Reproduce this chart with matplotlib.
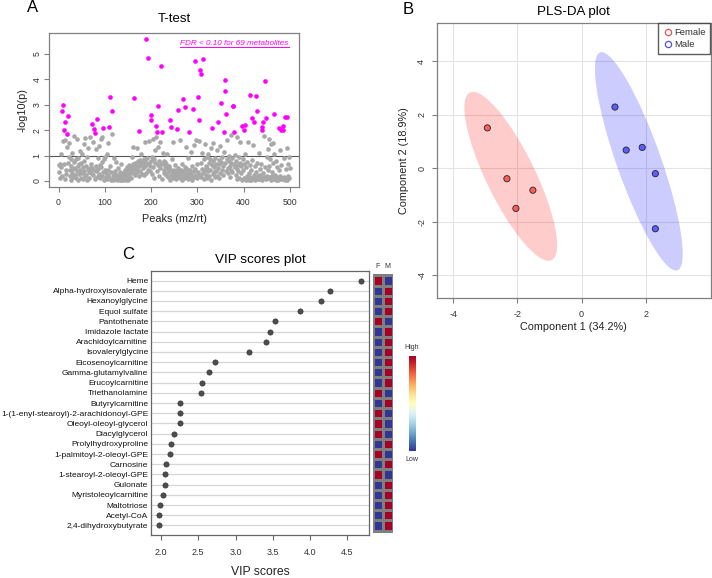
import numpy as np
import matplotlib
matplotlib.use("Agg")
import matplotlib.pyplot as plt
from matplotlib.patches import Ellipse
from matplotlib.lines import Line2D

plt.rcParams["font.family"] = ["Liberation Sans", "DejaVu Sans"]
plt.rcParams["axes.unicode_minus"] = False

# ---------------- A: T-test ----------------
n_peaks = 500
sig_peaks = [8, 10, 11, 13, 18, 21, 73, 77, 78, 84, 96, 110, 112, 116, 164, 173,
             190, 193, 199, 201, 210, 212, 215, 221, 224, 242, 243, 256, 258, 269,
             274, 283, 290, 296, 301, 304, 306, 307, 312, 332, 345, 352, 357, 360,
             361, 362, 377, 378, 380, 397, 400, 403, 415, 418, 423, 427, 430, 440,
             441, 443, 446, 449, 465, 477, 481, 485, 486, 490, 493]
sig_vals = [2.76, 2.98, 1.99, 2.31, 1.86, 2.57, 2.23, 2.05, 1.88, 2.45, 2.10, 2.11,
            3.29, 2.77, 3.25, 1.97, 5.60, 4.83, 2.39, 2.61, 2.18, 1.92, 2.97, 4.53,
            1.93, 2.39, 2.11, 2.03, 2.80, 3.24, 2.91, 1.92, 2.83, 4.72, 3.31, 2.41,
            4.37, 4.21, 4.82, 2.10, 2.31, 3.06, 1.93, 3.96, 3.53, 2.65, 2.94, 2.96,
            1.93, 2.15, 2.01, 2.20, 3.39, 2.47, 2.31, 3.36, 2.77, 2.02, 2.13, 2.31,
            3.92, 2.49, 2.65, 2.10, 2.02, 2.15, 2.01, 2.52, 2.52]
# -log10(p) of the remaining peaks, in peak order
other_vals = [
    0.35, 0.62, 0.12, 0.68, 0.55, 1.05, 0.20, 1.58, 0.65, 0.08,
    1.62, 0.45, 0.28, 1.35, 0.72, 0.95, 1.50, 0.18, 0.42, 0.88,
    0.05, 0.60, 1.12, 0.33, 0.48, 0.15, 0.75, 1.78, 0.22, 0.52,
    0.10, 0.85, 0.38, 1.65, 0.58, 0.02, 0.92, 0.27, 0.66, 1.18,
    0.44, 0.13, 0.70, 1.08, 0.32, 0.55, 0.07, 1.45, 0.40, 0.80,
    0.18, 1.70, 0.25, 0.60, 0.05, 0.95, 0.47, 1.28, 0.35, 0.12,
    0.52, 0.42, 1.72, 0.30, 0.65, 0.50, 1.55, 0.22, 0.45, 0.08,
    1.25, 0.58, 0.38, 0.16, 0.92, 0.48, 1.38, 0.28, 0.62, 0.10,
    1.65, 0.55, 0.20, 0.75, 1.75, 0.35, 0.05, 0.88, 0.42,
    0.95, 0.32, 0.15, 1.05, 0.08, 0.45, 0.22, 1.48, 0.12, 0.60,
    0.05, 0.35, 1.83, 0.18, 0.02, 0.28, 0.90, 0.10, 0.40, 0.06,
    0.75, 0.15, 0.03, 0.25, 0.12, 0.52, 0.08, 0.20, 0.02, 0.35,
    0.14, 0.05, 0.68, 0.10, 0.22, 0.04, 0.30, 0.12, 0.07, 0.45,
    0.18, 0.02, 0.28, 0.09, 0.55, 0.15, 0.05, 0.38, 0.24, 0.62,
    0.33, 0.48, 0.10, 0.55, 0.42, 0.95, 0.30, 0.65, 1.32, 0.50,
    0.22, 0.72, 0.45, 0.60, 1.28, 0.35, 0.78, 0.55, 0.18, 0.68,
    0.82, 0.40, 0.62, 1.05, 0.28, 0.75, 0.50, 0.70, 0.85, 0.25,
    0.58, 1.52, 0.78, 0.32, 0.65, 0.90, 0.45, 0.72, 1.58, 0.60,
    0.38, 0.80,
    0.95, 0.28, 1.65, 0.55, 0.85, 0.12, 1.20, 0.70, 1.75, 0.40,
    0.62, 1.35, 0.18, 0.78, 0.52, 1.55, 0.65, 0.08, 0.72, 1.10,
    0.45, 0.80, 0.30, 0.60, 0.75, 0.22, 0.68, 0.50, 1.08, 0.35,
    0.15, 0.58, 0.42, 0.05, 0.48, 0.25, 0.88, 0.38, 1.52, 0.10,
    0.32, 0.45, 0.18, 0.62, 0.28, 0.08, 0.40, 0.22, 0.52, 0.15,
    0.35, 1.60, 0.12, 0.45, 0.30, 0.05, 0.25, 0.68, 0.18, 0.40,
    0.10, 0.55, 0.28, 1.32, 0.15, 0.48, 0.08, 0.35, 0.92, 0.22,
    0.42, 0.12, 1.15, 0.30, 0.05, 0.58, 0.20, 1.40, 0.38, 0.15,
    0.48, 1.62, 0.25, 0.10, 0.65,
    0.35, 1.58, 0.22, 0.70, 0.15, 0.48, 1.10, 0.30, 0.85, 0.08,
    0.42, 1.45, 0.60, 0.25, 0.95, 0.12, 0.52, 1.05, 0.38, 0.72,
    0.18, 0.88, 0.45, 1.30, 0.05, 0.62, 0.28, 0.78, 1.48, 0.35,
    0.55, 0.15, 0.92, 0.40, 0.68, 1.22, 0.20, 0.50, 0.82, 0.10,
    0.65, 1.38, 0.32, 0.75, 0.45, 0.95, 0.58, 0.25, 1.15, 0.70,
    0.40, 0.85, 1.62, 0.52, 0.30, 0.78, 0.98, 0.60, 0.15, 0.72,
    1.80, 0.45, 0.90, 0.35, 0.68, 1.02, 0.55, 0.22, 0.80, 1.75,
    0.48, 0.08, 0.62, 0.38, 0.95, 0.12, 0.72, 1.55, 0.30, 0.58,
    0.05, 0.85, 0.42,
    0.68, 0.12, 1.05, 0.05, 0.55, 0.20, 0.75, 0.08, 1.52, 0.30,
    0.02, 0.62, 0.15, 0.45, 0.05, 0.82, 0.10, 1.40, 0.25, 0.04,
    0.58, 0.12, 0.35, 0.70, 0.08, 0.18, 1.10, 0.06, 0.48, 0.22,
    0.12, 0.65, 0.03, 0.30, 1.78, 0.15, 0.55, 0.08, 0.95, 0.20,
    1.25, 0.45, 0.10, 1.65, 0.60, 0.14, 0.85, 1.45, 0.05, 0.35,
    0.18, 1.50, 0.72, 0.08, 1.05, 0.25, 0.12, 0.80, 0.04, 0.15,
    0.55, 0.10, 0.02, 0.42, 0.18, 1.20, 0.06, 0.62, 0.12, 0.08,
    0.90, 0.15, 0.03, 0.48, 0.10, 1.30, 0.05, 0.20, 0.68, 0.12,
    0.95, 0.52,
]
p_cutoff = 1.0

# ---------------- B: PLS-DA ----------------
groups = ["Female", "Male"]
group_colors = ["#ff0000", "#0000ff"]
comp1_female = [-2.94, -2.33, -1.52, -2.05]
comp2_female = [1.50, -0.40, -0.83, -1.51]
comp1_male = [1.04, 1.39, 1.89, 2.30, 2.30]
comp2_male = [2.28, 0.67, 0.77, -0.21, -2.27]

# ---------------- C: VIP ----------------
vip_names = ["Heme", "Alpha-hydroxyisovalerate", "Hexanoylglycine", "Equol sulfate",
             "Pantothenate", "Imidazole lactate", "Arachidoylcarnitine",
             "Isovalerylglycine", "Eicosenoylcarnitine", "Gamma-glutamylvaline",
             "Erucoylcarnitine", "Triethanolamine", "Butyrylcarnitine",
             "1-(1-enyl-stearoyl)-2-arachidonoyl-GPE", "Oleoyl-oleoyl-glycerol",
             "Diacylglycerol", "Prolylhydroxyproline", "1-palmitoyl-2-oleoyl-GPE",
             "Carnosine", "1-stearoyl-2-oleoyl-GPE", "Gulonate",
             "Myristoleoylcarnitine", "Maltotriose", "Acetyl-CoA",
             "2,4-dihydroxybutyrate"]
vip_scores = [4.68, 4.27, 4.15, 3.86, 3.53, 3.46, 3.41, 3.18, 2.72, 2.65, 2.55,
              2.53, 2.25, 2.25, 2.25, 2.17, 2.13, 2.12, 2.06, 2.05, 2.05, 2.02,
              1.99, 1.97, 1.97]
# relative level per group (1 = high, 0 = low)
level_f = [1, 0, 0, 0, 1, 0, 0, 0, 0, 0, 0, 1, 0, 1, 1, 1, 0, 1, 0, 1, 0, 0, 0, 0, 0]
level_m = [0, 1, 1, 1, 0, 1, 1, 1, 1, 1, 1, 0, 1, 0, 0, 0, 1, 0, 1, 0, 1, 1, 1, 1, 1]
heat_cols = ["F", "M"]

W, H = 712, 578
fig = plt.figure(figsize=(W / 100, H / 100), dpi=100)
fig.patch.set_facecolor("white")


def px_axes(left, top, right, bottom):
    return fig.add_axes([left / W, 1 - bottom / H, (right - left) / W, (bottom - top) / H])


def r_style(ax, frame="#808080", tick_size=6.3):
    for s in ax.spines.values():
        s.set_color(frame)
        s.set_linewidth(0.9)
    ax.tick_params(colors=frame, labelcolor="#333333", labelsize=tick_size,
                   length=3.5, width=0.8)


text_col = "#222222"

# ---- A ----
ax = px_axes(49.3, 32.7, 299, 187.3)
neglogp = np.zeros(n_peaks)
is_sig = np.zeros(n_peaks, dtype=bool)
is_sig[np.array(sig_peaks) - 1] = True
neglogp[is_sig] = sig_vals
neglogp[~is_sig] = other_vals
peaks = np.arange(1, n_peaks + 1)
ax.scatter(peaks[~is_sig], neglogp[~is_sig], s=11, color="#a8a8a8", linewidths=0, zorder=2)
ax.scatter(peaks[is_sig], neglogp[is_sig], s=11, color="#ff00ff", linewidths=0, zorder=3)
ax.axhline(p_cutoff, color="#555555", lw=0.8, zorder=1)
ax.set_xlim(-20, 520)
ax.set_ylim(-0.25, 5.84)
ax.set_xticks([0, 100, 200, 300, 400, 500])
ax.set_yticks([0, 1, 2, 3, 4, 5])
r_style(ax, tick_size=6.3)
ax.tick_params(axis="x", pad=4)
ax.tick_params(axis="y", pad=2)
for lab in ax.get_yticklabels():
    lab.set_rotation(90)
    lab.set_va("center")
ax.set_xlabel("Peaks (mz/rt)", fontsize=7.8, color=text_col, labelpad=5)
ax.set_ylabel("-log10(p)", fontsize=7.8, color=text_col, labelpad=4)
ax.set_title("T-test", fontsize=9.5, color="black", pad=8)
fdr_txt = ax.text(0.959, 0.929, f"FDR < 0.10 for {len(sig_peaks)} metabolites",
                  transform=ax.transAxes, ha="right", va="center",
                  fontsize=5.9, style="italic", color="#ff00ff")

# ---- B ----
ax = px_axes(436.7, 23.3, 710.5, 298.3)
ax.grid(True, color="#e3e3e3", lw=0.8, zorder=0)
ax.set_axisbelow(True)
chi_scale = np.sqrt(-2 * np.log(0.05))
for xs, ys, name, col in [(comp1_female, comp2_female, groups[0], group_colors[0]),
                          (comp1_male, comp2_male, groups[1], group_colors[1])]:
    xs = np.array(xs)
    ys = np.array(ys)
    cov = np.cov(xs, ys)
    vals, vecs = np.linalg.eigh(cov)
    angle = np.degrees(np.arctan2(vecs[1, 1], vecs[0, 1]))
    ell = Ellipse((xs.mean(), ys.mean()), 2 * chi_scale * np.sqrt(vals[1]),
                  2 * chi_scale * np.sqrt(vals[0]), angle=angle,
                  facecolor=col, alpha=0.2, edgecolor="none", zorder=1)
    ax.add_patch(ell)
    ax.scatter(xs, ys, s=20, facecolor=col, alpha=0.55, edgecolor="none", zorder=2)
    ax.scatter(xs, ys, s=20, facecolor="none", edgecolor="#222222", linewidths=0.6, zorder=3)
ax.set_xlim(-4.52, 4.02)
ax.set_ylim(-4.87, 5.41)
ax.set_xticks([-4, -2, 0, 2])
ax.set_yticks([-4, -2, 0, 2, 4])
r_style(ax, tick_size=6.5)
ax.tick_params(axis="x", pad=5)
ax.tick_params(axis="y", pad=4)
for lab in ax.get_yticklabels():
    lab.set_rotation(90)
    lab.set_va("center")
ax.set_xlabel("Component 1 (34.2%)", fontsize=7.8, color=text_col, labelpad=2)
ax.set_ylabel("Component 2 (18.9%)", fontsize=7.8, color=text_col, labelpad=6)
ax.set_title("PLS-DA plot", fontsize=9.6, color="black", pad=6)
handles = [Line2D([], [], ls="none", marker="o", markersize=4.5, markerfacecolor="none",
                  markeredgecolor=c, markeredgewidth=0.9, label=g)
           for g, c in zip(groups, ["#f05050", "#5050f0"])]
leg = ax.legend(handles=handles, loc="upper right", fontsize=6.8, frameon=True,
                fancybox=False, borderaxespad=0, handletextpad=0.2,
                handlelength=1.0, borderpad=0.5, labelspacing=0.3)
leg.get_frame().set_edgecolor("#333333")
leg.get_frame().set_linewidth(1.0)
for t in leg.get_texts():
    t.set_color("#333333")

# ---- C ----
ax = px_axes(151, 271, 369.3, 535)
rows = np.arange(len(vip_names))
for r in rows:
    ax.axhline(r, color="#d6d6d6", lw=0.9, zorder=1)
ax.scatter(vip_scores, rows, s=14, color="#4d4d4d", edgecolor="#333333",
           linewidths=0.5, zorder=3)
ax.set_ylim(len(vip_names) - 1 + 0.94, -0.94)
ax.set_xlim(1.865, 4.795)
ax.set_yticks(rows)
ax.set_yticklabels(vip_names)
ax.set_xticks([2.0, 2.5, 3.0, 3.5, 4.0, 4.5])
r_style(ax, frame="#666666", tick_size=6.5)
ax.tick_params(axis="y", length=0, pad=2, labelsize=6.0, labelcolor="#111111")
ax.tick_params(axis="x", pad=6)
ax.set_xlabel("VIP scores", fontsize=8.8, color=text_col, labelpad=6)
ax.set_title("VIP scores plot", fontsize=9.7, color="black", pad=6)

# heat columns beside VIP plot
hx = px_axes(372.5, 271, 392.9, 535)
levels = np.column_stack([level_f, level_m]).astype(float)
hx.pcolormesh(np.arange(3), np.arange(len(vip_names) + 1) - 0.5, levels,
              cmap="RdYlBu_r", vmin=0, vmax=1, edgecolors="#7f7f7f", linewidth=0.9)
hx.set_xlim(0, 2)
hx.set_ylim(len(vip_names) - 1 + 0.94, -0.94)
hx.axis("off")
for j, c in enumerate(heat_cols):
    hx.text(j + 0.5, -1.0, c, ha="center", va="bottom", fontsize=5, color="#333333")

# colour key
cx = px_axes(408.7, 356, 415.3, 450.7)
cx.imshow(np.linspace(1, 0, 256).reshape(-1, 1), aspect="auto", cmap="RdYlBu_r")
cx.axis("off")
fig.text(412 / W, 1 - 347.3 / H, "High", ha="center", va="center", fontsize=5, color="#333333")
fig.text(412 / W, 1 - 459.3 / H, "Low", ha="center", va="center", fontsize=5, color="#333333")

# panel letters
fig.text(33 / W, 1 - 7 / H, "A", ha="center", va="center", fontsize=12)
fig.text(408 / W, 1 - 9 / H, "B", ha="center", va="center", fontsize=12)
fig.text(128 / W, 1 - 254 / H, "C", ha="center", va="center", fontsize=12)

# underline for the FDR note
fig.canvas.draw()
bb = fdr_txt.get_window_extent()
fig.add_artist(Line2D([bb.x0 / W, bb.x1 / W], [(bb.y0 + 0.3) / H] * 2,
                      color="#ff00ff", lw=0.7))

fig.savefig("out.png", dpi=100, facecolor="white")
plt.close(fig)
